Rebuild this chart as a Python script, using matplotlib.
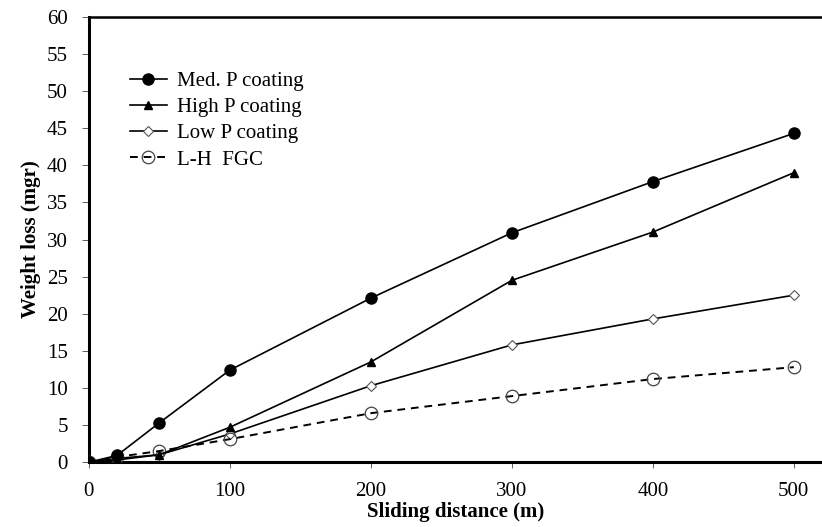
import matplotlib

matplotlib.use("Agg")
import matplotlib.pyplot as plt

# data
distance = [0, 20, 50, 100, 200, 300, 400, 500]
med_p = [0, 0.9, 5.3, 12.4, 22.1, 30.9, 37.8, 44.3]
high_p = [0, 0.3, 1.0, 4.7, 13.5, 24.5, 31.0, 39.0]
low_p = [0, 0.5, 1.0, 3.8, 10.3, 15.8, 19.3, 22.5]
lh_fgc = [0, 0.7, 1.5, 3.1, 6.6, 8.9, 11.2, 12.8]

plt.rcParams["font.family"] = ["Liberation Serif", "DejaVu Serif"]

fig = plt.figure(figsize=(8.22, 5.27), dpi=100)
ax = fig.add_axes([0.108, 0.123, 0.892, 0.845])

ax.plot(distance, med_p, "-", color="black", lw=1.2, marker="o", ms=8,
        mfc="black", mec="black", label="Med. P coating", zorder=4)
ax.plot(distance, high_p, "-", color="black", lw=1.2, marker="^", ms=6,
        mfc="black", mec="black", label="High P coating", zorder=4)
ax.plot(distance, low_p, "-", color="black", lw=1.2, marker="D", ms=5,
        mfc="white", mec="#555555", mew=0.8, label="Low P coating", zorder=3)
ax.plot(distance, lh_fgc, "--", color="black", lw=1.4, dashes=(4, 3), marker="o", ms=9,
        mfc="none", mec="#444444", mew=0.9, label="L-H  FGC", zorder=3)

ax.set_xlim(0, 520)
ax.set_ylim(0, 60)
ax.set_xticks([0, 100, 200, 300, 400, 500])
ax.set_yticks(range(0, 61, 5))
ax.tick_params(axis="both", labelsize=15, direction="out", length=5, width=0.6,
               colors="#444444", labelcolor="black")
ax.tick_params(axis="x", pad=10, length=4)
ax.tick_params(axis="y", pad=10)

ax.spines["right"].set_visible(False)
ax.spines["left"].set_linewidth(2.2)
ax.spines["bottom"].set_linewidth(2.2)
ax.spines["top"].set_linewidth(1.8)

ax.set_xlabel("Sliding distance (m)", fontsize=15, fontweight="bold", labelpad=1)
ax.set_ylabel("Weight loss (mgr)", fontsize=15, fontweight="bold", labelpad=4)

ax.legend(loc="upper left", bbox_to_anchor=(0.03, 0.92), frameon=False, fontsize=15,
          handlelength=1.8, handletextpad=0.5, labelspacing=0.32)

fig.savefig("out.png", dpi=100)
